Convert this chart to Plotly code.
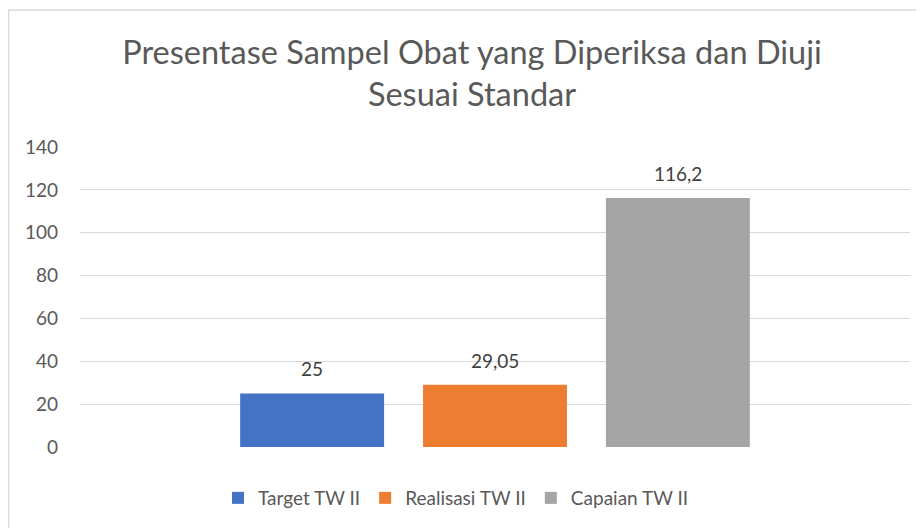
import plotly.graph_objects as go

categories = ["Presentase"]
series_names = ["Target TW II", "Realisasi TW II", "Capaian TW II"]
series_values = [25, 29.05, 116.2]
colors = ["#4472C4", "#ED7D31", "#A5A5A5"]
y_ticks = [0, 20, 40, 60, 80, 100, 120, 140]

FONT = "Lato"
TXT = "#595959"
bargap = 0.339
bargroupgap = 0.213

W, H = 916, 520
L, R, T, B = 72, 14, 139, 81
PW, PH = W - L - R, H - T - B

fig = go.Figure()
n = len(series_names)
slot = (1 - bargap) / n
for i, (name, val, col) in enumerate(zip(series_names, series_values, colors)):
    fig.add_trace(go.Bar(
        x=categories, y=[val], name=name, marker=dict(color=col, line=dict(width=0)),
        hoverinfo="y",
    ))
    label = f"{val:g}".replace(".", ",")
    fig.add_annotation(
        x=(i - (n - 1) / 2) * slot, y=val, xref="x", yref="y",
        text=label, showarrow=False, yanchor="bottom", yshift=11,
        font=dict(family=FONT, size=19, color="#404040"),
    )

fig.update_layout(
    width=W, height=H,
    margin=dict(l=L, r=R, t=T, b=B, autoexpand=False),
    paper_bgcolor="white", plot_bgcolor="white",
    barmode="group", bargap=bargap, bargroupgap=bargroupgap,
    title=dict(
        text="Presentase Sampel Obat yang Diperiksa dan Diuji<br>Sesuai Standar",
        x=464 / W, xanchor="center", xref="container",
        y=1 - 56 / H, yanchor="top", yref="container",
        font=dict(family=FONT, size=32.5, color=TXT),
    ),
    xaxis=dict(type="category", range=[-0.5, 0.5], showticklabels=False,
               showgrid=False, zeroline=False, showline=False, ticks=""),
    yaxis=dict(range=[0, 140], tickvals=y_ticks, showgrid=True, gridcolor="#D9D9D9",
               gridwidth=1.3, zeroline=False, showline=False, ticks="",
               ticklabelstandoff=21,
               tickfont=dict(family=FONT, size=19, color=TXT)),
    legend=dict(orientation="h", x=(448 - L) / PW, xanchor="center",
                y=-(490 - (T + PH)) / PH, yanchor="middle", itemwidth=30,
                font=dict(family=FONT, size=19, color=TXT), traceorder="normal"),
    showlegend=True,
    shapes=[dict(type="rect", xref="paper", yref="paper",
                 x0=(0.5 - L) / PW, x1=(W + 10 - L) / PW,
                 y0=-(H + 10 - (T + PH)) / PH, y1=(T + PH - 2) / PH,
                 line=dict(color="#D9D9D9", width=1.5), fillcolor="rgba(0,0,0,0)",
                 layer="below")],
)

fig.write_html("out.html")
